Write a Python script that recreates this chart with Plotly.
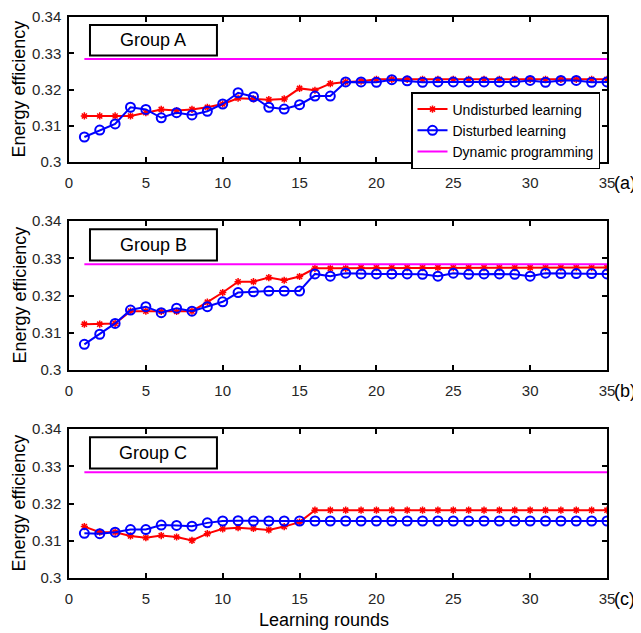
import plotly.graph_objects as go
from plotly.subplots import make_subplots

rounds = list(range(1, 36))

undisturbed_a = [0.3127, 0.3127, 0.3127, 0.3127, 0.3136, 0.3145, 0.3142, 0.3145, 0.3151, 0.3160,
                 0.3176, 0.3174, 0.3172, 0.3174, 0.3203, 0.3198, 0.3216, 0.3221, 0.3223, 0.3228,
                 0.3228, 0.3228, 0.3228, 0.3228, 0.3228, 0.3228, 0.3228, 0.3228, 0.3228, 0.3228,
                 0.3228, 0.3228, 0.3228, 0.3228, 0.3228]
disturbed_a = [0.3069, 0.3088, 0.3105, 0.3151, 0.3145, 0.3122, 0.3136, 0.3130, 0.3140, 0.3160,
               0.3191, 0.3180, 0.3151, 0.3146, 0.3158, 0.3182, 0.3182, 0.3221, 0.3221, 0.3220,
               0.3227, 0.3224, 0.3220, 0.3221, 0.3221, 0.3221, 0.3221, 0.3221, 0.3221, 0.3225,
               0.3220, 0.3225, 0.3225, 0.3220, 0.3221]

undisturbed_b = [0.3123, 0.3123, 0.3125, 0.3158, 0.3158, 0.3157, 0.3157, 0.3158, 0.3182, 0.3208,
                 0.3237, 0.3237, 0.3248, 0.3241, 0.3251, 0.3273, 0.3273, 0.3273, 0.3275, 0.3275,
                 0.3275, 0.3275, 0.3275, 0.3275, 0.3275, 0.3275, 0.3275, 0.3275, 0.3275, 0.3275,
                 0.3275, 0.3275, 0.3275, 0.3275, 0.3275]
disturbed_b = [0.3069, 0.3096, 0.3125, 0.3161, 0.3170, 0.3154, 0.3166, 0.3158, 0.3170, 0.3183,
               0.3208, 0.3210, 0.3212, 0.3212, 0.3212, 0.3258, 0.3252, 0.3260, 0.3258, 0.3258,
               0.3258, 0.3258, 0.3257, 0.3252, 0.3260, 0.3257, 0.3258, 0.3258, 0.3257, 0.3252,
               0.3260, 0.3259, 0.3259, 0.3259, 0.3258]

undisturbed_c = [0.3138, 0.3123, 0.3123, 0.3113, 0.3108, 0.3114, 0.3110, 0.3101, 0.3119, 0.3132,
                 0.3135, 0.3133, 0.3129, 0.3138, 0.3150, 0.3182, 0.3182, 0.3182, 0.3182, 0.3182,
                 0.3182, 0.3182, 0.3182, 0.3182, 0.3182, 0.3182, 0.3182, 0.3182, 0.3182, 0.3182,
                 0.3182, 0.3182, 0.3182, 0.3182, 0.3182]
disturbed_c = [0.3120, 0.3119, 0.3123, 0.3130, 0.3130, 0.3142, 0.3141, 0.3139, 0.3148, 0.3153,
               0.3154, 0.3153, 0.3153, 0.3153, 0.3153, 0.3153, 0.3153, 0.3153, 0.3153, 0.3153,
               0.3153, 0.3153, 0.3153, 0.3153, 0.3153, 0.3153, 0.3153, 0.3153, 0.3153, 0.3153,
               0.3153, 0.3153, 0.3153, 0.3153, 0.3153]

dp_value = 0.3284
dynamic_programming = [dp_value] * len(rounds)

groups = ["Group A", "Group B", "Group C"]
panel_tags = ["(a)", "(b)", "(c)"]
series_names = ["Undisturbed learning", "Disturbed learning", "Dynamic programming"]
x_ticks = [0, 5, 10, 15, 20, 25, 30, 35]
y_ticks = [0.30, 0.31, 0.32, 0.33, 0.34]
y_tick_text = ["0.3", "0.31", "0.32", "0.33", "0.34"]

undisturbed = [undisturbed_a, undisturbed_b, undisturbed_c]
disturbed = [disturbed_a, disturbed_b, disturbed_c]

# page body has an 8px margin: the figure is sized to fit the window
OFF = 8
W, H = 641 - OFF, 633 - OFF
FONT = "Liberation Sans, Arial, sans-serif"


def px(x):
    return (x - OFF) / W


def py(y):
    return 1 - (y - OFF) / H


x_dom = [px(69), px(607)]
panel_px = [(17, 162), (221, 370), (429, 578)]
y_doms = [[py(b), py(t)] for t, b in panel_px]

fig = make_subplots(rows=3, cols=1)

for i in range(3):
    r = i + 1
    fig.add_trace(go.Scatter(
        x=rounds, y=undisturbed[i], mode="lines+markers", name=series_names[0],
        line=dict(color="#FF0000", width=2),
        marker=dict(symbol="asterisk-open", size=6, color="#FF0000", line=dict(color="#FF0000", width=1.5)),
        showlegend=(i == 0)), row=r, col=1)
    fig.add_trace(go.Scatter(
        x=rounds, y=disturbed[i], mode="lines+markers", name=series_names[1],
        line=dict(color="#0000FF", width=2),
        marker=dict(symbol="circle-open", size=9, color="#0000FF", line=dict(color="#0000FF", width=2)),
        showlegend=(i == 0)), row=r, col=1)
    fig.add_trace(go.Scatter(
        x=rounds, y=dynamic_programming, mode="lines", name=series_names[2],
        line=dict(color="#FF00FF", width=2),
        showlegend=(i == 0)), row=r, col=1)

    xa = "xaxis" if i == 0 else f"xaxis{r}"
    ya = "yaxis" if i == 0 else f"yaxis{r}"
    fig.layout[xa].update(
        domain=x_dom, range=[0, 35], tickvals=x_ticks, ticks="inside", ticklen=5, tickwidth=1.5,
        showline=True, linecolor="black", linewidth=1.5, mirror="ticks", showgrid=False, zeroline=False,
        tickfont=dict(family=FONT, size=15, color="#262626"), tickcolor="black",
        automargin=False, ticklabelstandoff=6, ticklabeloverflow="allow")
    fig.layout[ya].update(
        domain=y_doms[i], range=[0.30, 0.34], tickvals=y_ticks, ticktext=y_tick_text, ticks="inside",
        ticklen=5, tickwidth=1.5, showline=True, linecolor="black", linewidth=1.5, mirror="ticks",
        showgrid=False, zeroline=False, tickfont=dict(family=FONT, size=15, color="#262626"),
        tickcolor="black", automargin=False, ticklabelstandoff=3, ticklabeloverflow="allow")

    xref = "x" if i == 0 else f"x{r}"
    yref = "y" if i == 0 else f"y{r}"
    fig.add_shape(type="rect", xref=f"{xref} domain", yref=f"{yref} domain",
                  x0=0.039, x1=0.275, y0=0.735, y1=0.945,
                  line=dict(color="black", width=2), fillcolor="white", layer="above")
    fig.add_annotation(xref=f"{xref} domain", yref=f"{yref} domain", x=0.157, y=0.84,
                       xanchor="center", yanchor="middle",
                       text=groups[i], showarrow=False,
                       font=dict(family=FONT, size=18, color="black"))
    fig.add_annotation(xref="paper", yref="paper", x=px(612), y=py(panel_px[i][1] + 21),
                       xanchor="left", yanchor="middle", text=panel_tags[i], showarrow=False,
                       font=dict(family=FONT, size=18, color="black"))
    fig.add_annotation(xref="paper", yref="paper", x=px(19), y=sum(y_doms[i]) / 2,
                       text="Energy efficiency", textangle=-90, showarrow=False,
                       xanchor="center", yanchor="middle",
                       font=dict(family=FONT, size=18, color="black"))

fig.add_annotation(xref="paper", yref="paper", x=px(324), y=py(620), text="Learning rounds",
                   showarrow=False, xanchor="center", yanchor="middle",
                   font=dict(family=FONT, size=18, color="black"))

fig.update_layout(
    template="none",
    width=W, height=H, margin=dict(l=0, r=0, t=0, b=0, pad=0),
    paper_bgcolor="white", plot_bgcolor="white",
    legend=dict(x=px(600), y=py(92), xanchor="right", yanchor="top",
                bgcolor="white", bordercolor="black", borderwidth=1.5,
                font=dict(family=FONT, size=14, color="black"),
                itemwidth=30, tracegroupgap=0),
)

fig.write_html("out.html")
